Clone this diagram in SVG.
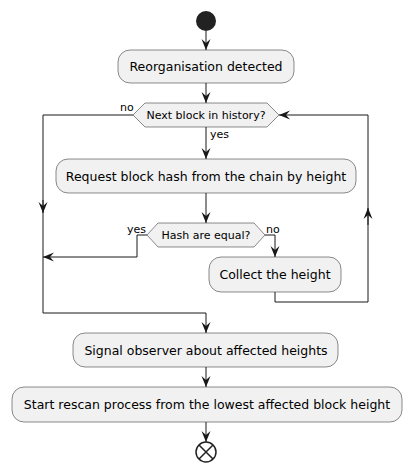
<svg xmlns="http://www.w3.org/2000/svg" width="411" height="471" viewBox="0 0 411 471">
<defs>
<style>
.box{fill:#F1F1F1;stroke:#181818;stroke-width:0.5}
.t{font-family:"DejaVu Sans",sans-serif;font-size:12.5px;fill:#000;text-anchor:middle}
.d{font-family:"DejaVu Sans",sans-serif;font-size:11px;fill:#000;text-anchor:middle}
.l{font-family:"DejaVu Sans",sans-serif;font-size:11px;fill:#000}
.ln{fill:none;stroke:#181818;stroke-width:1}
</style>
<marker id="arr" viewBox="0 0 11 10" refX="11" refY="5" markerWidth="11" markerHeight="10" markerUnits="userSpaceOnUse" orient="auto">
<path d="M0,0.5 L11,5 L0,9.5 L4,5 Z" fill="#181818"/>
</marker>
</defs>
<rect width="411" height="471" fill="#FFFFFF"/>
<g id="connectors">
<path class="ln" d="M206,31 V50" marker-end="url(#arr)"/>
<path class="ln" d="M206,83 V103" marker-end="url(#arr)"/>
<path class="ln" d="M206,127 V159" marker-end="url(#arr)"/>
<path class="ln" d="M206,193 V223" marker-end="url(#arr)"/>
<path class="ln" d="M265,235 H275 V257" marker-end="url(#arr)"/>
<path class="ln" d="M147,235 H137 V257 H43" marker-end="url(#arr)"/>
<path class="ln" d="M275,292 V302 H368 V115 H279" marker-end="url(#arr)"/>
<path class="ln" d="M368,225 V208" marker-end="url(#arr)"/>
<path class="ln" d="M133,115 H43 V313 H206 V333" marker-end="url(#arr)"/>
<path class="ln" d="M43,200 V213" marker-end="url(#arr)"/>
<path class="ln" d="M206,367 V387" marker-end="url(#arr)"/>
<path class="ln" d="M206,422 V442" marker-end="url(#arr)"/>
<text class="l" x="120" y="111">no</text>
<text class="l" x="210" y="138">yes</text>
<text class="l" x="127" y="233">yes</text>
<text class="l" x="266" y="233">no</text>
</g>
<g id="start"><circle cx="206" cy="21" r="10" fill="#222222"/></g>
<g id="reorg">
<rect class="box" x="118" y="50" width="176" height="33" rx="12"/>
<text class="t" x="206" y="71">Reorganisation detected</text>
</g>
<g id="next">
<polygon class="box" points="133,115 145,103 267,103 279,115 267,127 145,127"/>
<text class="d" x="206" y="119">Next block in history?</text>
</g>
<g id="request">
<rect class="box" x="56" y="159" width="300" height="34" rx="12"/>
<text class="t" x="206" y="181">Request block hash from the chain by height</text>
</g>
<g id="hash">
<polygon class="box" points="147,235 158,223 254,223 265,235 254,247 158,247"/>
<text class="d" x="206" y="239">Hash are equal?</text>
</g>
<g id="collect">
<rect class="box" x="209" y="257" width="132" height="35" rx="12"/>
<text class="t" x="275" y="279">Collect the height</text>
</g>
<g id="signal">
<rect class="box" x="73" y="333" width="265" height="34" rx="12"/>
<text class="t" x="206" y="355">Signal observer about affected heights</text>
</g>
<g id="rescan">
<rect class="box" x="12" y="387" width="390" height="35" rx="12"/>
<text class="t" x="207" y="409">Start rescan process from the lowest affected block height</text>
</g>
<g id="end">
<circle cx="206" cy="452" r="10" fill="none" stroke="#222222" stroke-width="1.5"/>
<path d="M199,445 L213,459 M213,445 L199,459" stroke="#222222" stroke-width="1.5"/>
</g>
</svg>
